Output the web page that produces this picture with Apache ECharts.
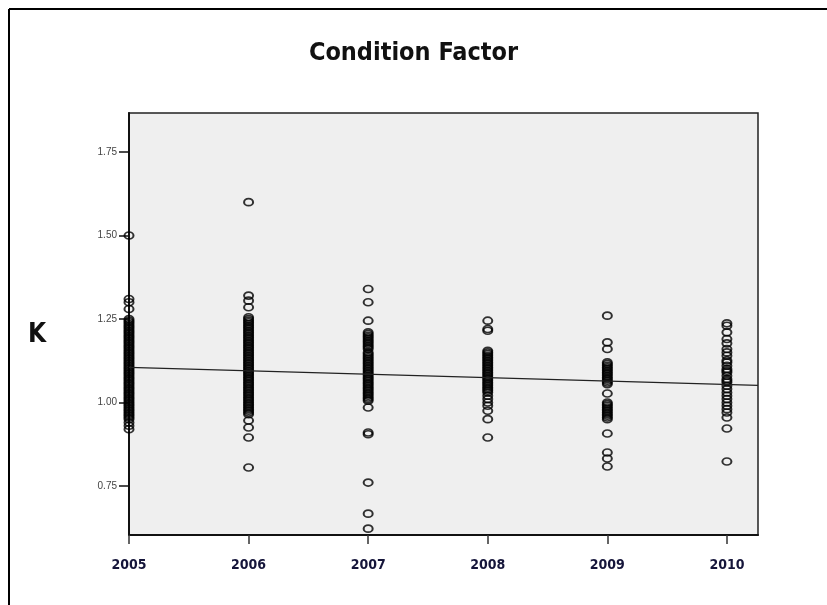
<!DOCTYPE html>
<html>
<head>
<meta charset="utf-8">
<script src="https://cdn.jsdelivr.net/npm/echarts@6/dist/echarts.min.js"></script>
<style>
  html, body { margin: 0; padding: 0; background: #fff; }
  #main { width: 827px; height: 605px; }
</style>
</head>
<body>
<div id="main"></div>
<script type="text/javascript">
// years on the x axis
var years = [2005, 2006, 2007, 2008, 2009, 2010];
var yTicks = [0.75, 1.00, 1.25, 1.50, 1.75];

// condition factor K per year
var k2005 = [1.50, 1.31, 1.30, 1.28,
  1.25, 1.245, 1.24, 1.235, 1.23, 1.225, 1.22, 1.215, 1.21, 1.205, 1.20, 1.195, 1.19, 1.185, 1.18, 1.175,
  1.17, 1.165, 1.16, 1.155, 1.15, 1.145, 1.14, 1.135, 1.13, 1.125, 1.12, 1.115, 1.11, 1.105, 1.10, 1.095,
  1.09, 1.085, 1.08, 1.075, 1.07, 1.065, 1.06, 1.055, 1.05, 1.045, 1.04, 1.035, 1.03, 1.025, 1.02, 1.015,
  1.01, 1.005, 1.00, 0.995, 0.99, 0.985, 0.98, 0.975, 0.97, 0.965, 0.96, 0.955, 0.95, 0.94, 0.93, 0.92];
var k2006 = [1.60, 1.32, 1.305, 1.285,
  1.255, 1.25, 1.245, 1.24, 1.235, 1.23, 1.225, 1.22, 1.215, 1.21, 1.205, 1.20, 1.195, 1.19, 1.185, 1.18,
  1.175, 1.17, 1.165, 1.16, 1.155, 1.15, 1.145, 1.14, 1.135, 1.13, 1.125, 1.12, 1.115, 1.11, 1.105, 1.10,
  1.095, 1.09, 1.085, 1.08, 1.075, 1.07, 1.065, 1.06, 1.055, 1.05, 1.045, 1.04, 1.035, 1.03, 1.025, 1.02,
  1.015, 1.01, 1.005, 1.00, 0.995, 0.99, 0.985, 0.98, 0.975, 0.97, 0.965, 0.946, 0.925, 0.895, 0.805];
var k2007 = [1.34, 1.30, 1.245,
  1.21, 1.205, 1.20, 1.195, 1.19, 1.185, 1.18, 1.175, 1.17, 1.165, 1.16, 1.15, 1.145, 1.14, 1.135, 1.13,
  1.125, 1.12, 1.115, 1.11, 1.105, 1.10, 1.095, 1.09, 1.085, 1.08, 1.075, 1.07, 1.065, 1.06, 1.055, 1.05,
  1.045, 1.04, 1.035, 1.03, 1.025, 1.02, 1.015, 1.01, 1.005, 0.985, 0.91, 0.905, 0.76, 0.667, 0.622];
var k2008 = [1.245, 1.22, 1.215,
  1.155, 1.15, 1.145, 1.14, 1.135, 1.13, 1.125, 1.12, 1.115, 1.11, 1.105, 1.10, 1.095, 1.09, 1.085, 1.08,
  1.075, 1.07, 1.065, 1.06, 1.055, 1.05, 1.045, 1.04, 1.035, 1.03, 1.02, 1.01, 1.00, 0.99, 0.975, 0.95, 0.895];
var k2009 = [1.26, 1.18, 1.16,
  1.12, 1.115, 1.11, 1.105, 1.10, 1.095, 1.09, 1.085, 1.08, 1.075, 1.07, 1.065, 1.06, 1.055, 1.027,
  1.00, 0.995, 0.99, 0.985, 0.98, 0.975, 0.97, 0.965, 0.96, 0.955, 0.95, 0.907, 0.85, 0.832, 0.808];
var k2010 = [1.237, 1.23, 1.21, 1.19, 1.177, 1.16, 1.15, 1.14, 1.126, 1.12, 1.11, 1.10, 1.095, 1.09, 1.08, 1.07,
  1.065, 1.06, 1.05, 1.04, 1.03, 1.02, 1.01, 1.00, 0.99, 0.98, 0.97, 0.955, 0.922, 0.823];

// fitted line ends
var fitX = [2005, 2010.26];
var fitY = [1.105, 1.051];

var kByYear = [k2005, k2006, k2007, k2008, k2009, k2010];
var points = [];
kByYear.forEach(function (arr, i) {
  arr.forEach(function (v) { points.push([years[i], v]); });
});

var chart = echarts.init(document.getElementById('main'));
var narrow = "'Liberation Sans Narrow', 'DejaVu Sans Condensed', 'Open Sans', sans-serif";

var option = {
  backgroundColor: '#fff',
  animation: false,
  title: {
    text: 'Condition Factor',
    left: 'center',
    top: 36,
    textStyle: { fontFamily: narrow, fontSize: 25, fontWeight: 'bold', color: '#111' }
  },
  graphic: [
    { type: 'line', shape: { x1: 9, y1: 9, x2: 9, y2: 605 }, style: { stroke: '#000', lineWidth: 2 } },
    { type: 'line', shape: { x1: 9, y1: 9, x2: 827, y2: 9 }, style: { stroke: '#000', lineWidth: 2 } },
    { type: 'text', left: 28, top: 322, style: { text: 'K', fontFamily: narrow, fontSize: 26, fontWeight: 'bold', fill: '#111' } }
  ],
  grid: {
    left: 129, right: 69, top: 113, bottom: 70,
    show: true,
    backgroundColor: '#efefef',
    borderColor: '#222',
    borderWidth: 1.5
  },
  xAxis: {
    type: 'value',
    min: 2005,
    max: 2010.26,
    splitLine: { show: false },
    axisLine: { lineStyle: { color: '#111', width: 2 } },
    axisTick: { show: true, length: 9, customValues: years, lineStyle: { color: '#333', width: 1.5 } },
    axisLabel: {
      customValues: years,
      margin: 23,
      fontFamily: narrow, fontSize: 14, fontWeight: 'bold', color: '#15153a',
      formatter: function (v) { return String(v); }
    }
  },
  yAxis: {
    type: 'value',
    min: 0.603,
    max: 1.867,
    splitLine: { show: false },
    axisLine: { show: true, lineStyle: { color: '#111', width: 2 } },
    axisTick: { show: true, length: 10, customValues: yTicks, lineStyle: { color: '#111', width: 1.5 } },
    axisLabel: {
      customValues: yTicks,
      margin: 12,
      fontFamily: 'Liberation Sans, Arial, sans-serif', fontSize: 10, color: '#444',
      formatter: function (v) { return v.toFixed(2); }
    }
  },
  series: [
    {
      type: 'scatter',
      data: points,
      clip: false,
      symbol: 'circle',
      symbolSize: [9, 7],
      itemStyle: { color: 'transparent', borderColor: '#000', borderWidth: 1.8 },
      z: 3
    },
    {
      type: 'line',
      data: [[fitX[0], fitY[0]], [fitX[1], fitY[1]]],
      showSymbol: false,
      symbol: 'none',
      lineStyle: { color: '#222', width: 1.2 },
      z: 4
    }
  ]
};
chart.setOption(option);
</script>
</body>
</html>
